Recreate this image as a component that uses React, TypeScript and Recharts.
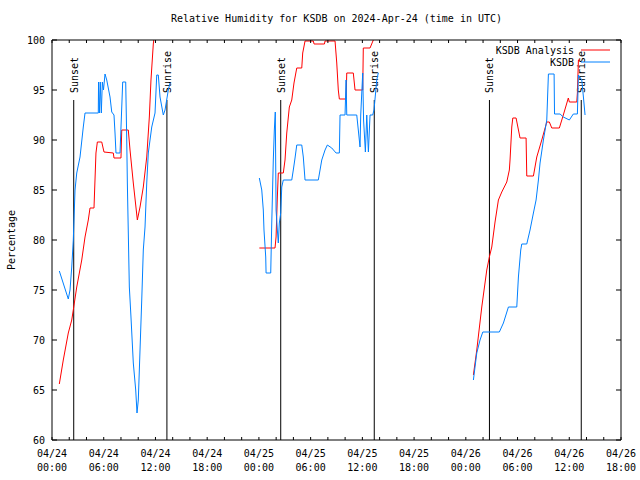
import { LineChart, Line, XAxis, YAxis, ReferenceLine } from "recharts"

// hours counted from 04/24 00:00 UTC
const xTicks = [0, 2, 4, 6, 8, 10, 12, 14, 16, 18, 20, 22, 24, 26, 28, 30, 32, 34, 36, 38, 40, 42, 44, 46, 48, 50, 52, 54, 56, 58, 60, 62, 64, 66]
const dayLabels = ["04/24", "04/25", "04/26"]
const yTicks = [60, 65, 70, 75, 80, 85, 90, 95, 100]

const sunsetHours = [2.52, 26.53, 50.74]
const sunriseHours = [13.33, 37.38, 61.39]
const sunMarkerTop = 94

const analysisApr24: [number, number][] = [
  [0.85, 65.6], [1.31, 68.0], [1.89, 70.7], [2.29, 72.0], [2.47, 73.0], [2.87, 75.3], [3.45, 78.0],
  [3.83, 80.3], [4.21, 82.0], [4.41, 83.2], [4.87, 83.2], [5.1, 88.7], [5.26, 89.8], [5.77, 89.8],
  [6.03, 88.8], [7.11, 88.7], [7.19, 88.2], [8.0, 88.2], [8.09, 91.0], [8.85, 91.0], [9.05, 89.0],
  [9.43, 85.7], [9.9, 82.0], [10.21, 83.3], [10.59, 85.3], [10.99, 88.3], [11.29, 92.3], [11.48, 96.0],
  [11.75, 99.6], [12.0, 101.5],
]
const analysisApr25: [number, number][] = [
  [24.05, 79.2], [25.87, 79.2], [25.99, 80.3], [26.14, 84.3], [26.25, 86.7], [26.83, 86.7], [27.03, 88.0],
  [27.23, 90.7], [27.53, 93.3], [27.81, 94.0], [28.07, 95.7], [28.39, 97.2], [28.97, 97.2], [29.08, 98.7],
  [29.35, 99.9], [30.31, 99.9], [30.4, 99.6], [31.6, 99.6], [31.67, 99.9], [32.83, 99.9], [33.03, 97.7],
  [33.21, 95.0], [33.33, 94.1], [34.11, 94.1], [34.19, 96.7], [34.95, 96.7], [35.15, 95.0], [36.04, 95.0],
  [36.11, 99.2], [36.89, 99.2], [37.27, 100.0], [37.59, 101.0],
]
const analysisApr26: [number, number][] = [
  [48.88, 66.5], [49.27, 69.0], [49.85, 73.3], [50.43, 77.0], [50.73, 78.3], [51.01, 79.3], [51.39, 81.8],
  [51.78, 84.0], [52.17, 84.8], [52.75, 85.8], [53.05, 87.0], [53.13, 88.0], [53.33, 91.3], [53.45, 92.2],
  [53.83, 92.2], [54.29, 90.2], [54.99, 90.2], [55.07, 86.4], [55.84, 86.4], [56.23, 88.3], [56.81, 90.0],
  [57.39, 91.8], [57.69, 91.8], [57.97, 91.2], [58.85, 91.2], [59.31, 92.5], [59.89, 94.2], [60.01, 93.8],
  [60.87, 93.8], [60.94, 94.7], [61.06, 98.0], [61.25, 98.0],
]

const observedApr24: [number, number][] = [
  [0.85, 76.9], [1.89, 74.1], [2.09, 75.0], [2.29, 77.3], [2.47, 80.0], [2.67, 85.0], [2.87, 86.7],
  [3.25, 88.3], [3.63, 91.3], [3.83, 92.7], [5.37, 92.7], [5.4, 95.8], [5.5, 92.7], [5.6, 95.8],
  [5.72, 92.7], [5.84, 95.8], [5.97, 95.0], [6.15, 96.6], [6.35, 96.0], [6.73, 94.3], [6.93, 92.8],
  [7.19, 92.5], [7.31, 90.7], [7.42, 88.7], [7.89, 88.7], [8.2, 95.8], [8.55, 95.8], [8.67, 90.0],
  [8.74, 85.7], [8.85, 80.7], [8.97, 75.3], [9.16, 72.3], [9.43, 67.7], [9.71, 65.0], [9.86, 62.7],
  [10.01, 64.0], [10.21, 69.0], [10.41, 74.0], [10.59, 79.0], [10.79, 81.3], [10.99, 85.7], [11.17, 88.7],
  [11.57, 91.3], [11.95, 92.7], [12.15, 96.5], [12.33, 96.5], [12.53, 94.3], [12.91, 92.5], [13.11, 93.0],
  [13.49, 95.0], [13.69, 95.7],
]
const observedApr25: [number, number][] = [
  [24.05, 86.2], [24.33, 85.0], [24.51, 83.0], [24.59, 81.0], [24.79, 78.3], [24.83, 76.7], [25.37, 76.7],
  [25.49, 81.7], [25.67, 88.0], [25.79, 91.0], [25.9, 92.8], [25.99, 83.0], [26.14, 81.0], [26.25, 79.7],
  [26.37, 81.7], [26.53, 82.7], [26.65, 85.3], [26.83, 86.0], [27.81, 86.0], [27.99, 87.0], [28.19, 88.2],
  [28.39, 89.5], [28.97, 89.5], [29.15, 88.3], [29.35, 86.0], [30.89, 86.0], [31.09, 87.0], [31.29, 88.0],
  [31.67, 89.0], [31.94, 89.5], [32.45, 89.2], [32.95, 88.7], [33.33, 88.7], [33.41, 92.5], [33.99, 92.5],
  [34.11, 96.0], [34.19, 92.5], [35.35, 92.5], [35.53, 91.0], [35.73, 89.3], [35.81, 92.5], [36.04, 96.7],
  [36.14, 92.0], [36.35, 88.8], [36.51, 92.5], [36.7, 88.8], [36.89, 92.5], [37.2, 92.5], [37.35, 93.0],
  [37.67, 96.0], [37.85, 96.7],
]
const observedApr26: [number, number][] = [
  [48.88, 66.0], [49.27, 68.7], [49.65, 70.0], [49.97, 70.8], [51.89, 70.8], [52.36, 71.7], [52.94, 73.3],
  [53.91, 73.3], [54.1, 76.3], [54.37, 79.0], [54.49, 79.6], [55.07, 79.6], [55.45, 81.0], [55.84, 82.7],
  [56.15, 84.0], [56.42, 86.0], [56.61, 87.7], [57.0, 90.0], [57.39, 92.0], [57.58, 96.6], [58.24, 96.6],
  [58.29, 92.6], [58.93, 92.6], [59.31, 92.3], [60.01, 92.0], [60.47, 92.6], [60.94, 92.6], [61.06, 96.5],
  [61.45, 96.0], [61.64, 94.3], [61.83, 92.5],
]

const FONT = "'DejaVu Sans Mono', monospace"
const RED = "#ff0000"
const BLUE = "#0080ff"

// join the daily pieces with a null point so the line breaks between them
function joinSegments(...segments: [number, number][][]) {
  const out: { h: number; v: number | null }[] = []
  segments.forEach((seg, i) => {
    if (i > 0) out.push({ h: segments[i - 1][segments[i - 1].length - 1][0] + 0.01, v: null })
    seg.forEach(([h, v]) => out.push({ h, v }))
  })
  return out
}

const analysisData = joinSegments(analysisApr24, analysisApr25, analysisApr26)
const observedData = joinSegments(observedApr24, observedApr25, observedApr26)

const textStyle = { fontFamily: FONT, fontSize: 10, fill: "#000" }

function BottomTick({ x, y, payload }: any) {
  const h = payload.value as number
  const showLabel = h % 6 === 0
  const hour = String(h % 24).padStart(2, "0") + ":00"
  return (
    <g>
      <line x1={x} x2={x} y1={y} y2={y - 3} stroke="#000" />
      {showLabel && (
        <text x={x} y={y + 17} textAnchor="middle" {...textStyle}>
          {dayLabels[Math.floor(h / 24)]}
        </text>
      )}
      {showLabel && (
        <text x={x} y={y + 31} textAnchor="middle" {...textStyle}>
          {hour}
        </text>
      )}
    </g>
  )
}

function TopTick({ x, y }: any) {
  return <line x1={x} x2={x} y1={y} y2={y + 3} stroke="#000" />
}

function LeftTick({ x, y, payload }: any) {
  return (
    <g>
      <line x1={x} x2={x + 5} y1={y} y2={y} stroke="#000" />
      <text x={x - 7} y={y} textAnchor="end" dominantBaseline="central" {...textStyle}>
        {payload.value}
      </text>
    </g>
  )
}

function RightTick({ x, y }: any) {
  return <line x1={x - 5} x2={x} y1={y} y2={y} stroke="#000" />
}

function YTitle({ viewBox }: any) {
  const x = viewBox.x + 11
  const y = viewBox.y + viewBox.height / 2
  return (
    <text x={x} y={y} transform={`rotate(-90 ${x} ${y})`} textAnchor="middle" dominantBaseline="central" {...textStyle}>
      Percentage
    </text>
  )
}

function SunLabel({ viewBox, text }: any) {
  const x = (viewBox.x ?? viewBox.x1) + 4
  const y = (viewBox.y ?? Math.min(viewBox.y1, viewBox.y2)) - 7
  return (
    <text x={x} y={y} transform={`rotate(-90 ${x} ${y})`} textAnchor="start" {...textStyle}>
      {text}
    </text>
  )
}

export default function App() {
  return (
    <div style={{ position: "absolute", left: 0, top: 0, width: 640, height: 480, background: "#fff" }}>
      <div
        style={{
          position: "absolute", left: 52, top: 13, width: 569, textAlign: "center",
          fontFamily: FONT, fontSize: 10, lineHeight: "12px", color: "#000",
        }}
      >
        Relative Humidity for KSDB on 2024-Apr-24 (time in UTC)
      </div>
      <LineChart width={640} height={480} margin={{ top: 39, right: 18, bottom: 0, left: 0 }}>
        <XAxis
          xAxisId="b" dataKey="h" type="number" domain={[0, 66]} ticks={xTicks} interval={0}
          allowDataOverflow height={40} tickSize={0} tickMargin={0} tickLine={false}
          axisLine={{ stroke: "#000" }} tick={<BottomTick />}
        />
        <XAxis
          xAxisId="t" orientation="top" dataKey="h" type="number" domain={[0, 66]} ticks={xTicks} interval={0}
          allowDataOverflow height={1} tickSize={0} tickMargin={0} tickLine={false}
          axisLine={{ stroke: "#000" }} tick={<TopTick />}
        />
        <YAxis
          yAxisId="l" type="number" domain={[60, 100]} ticks={yTicks} interval={0} allowDataOverflow
          width={52} tickSize={0} tickMargin={0} tickLine={false} axisLine={{ stroke: "#000" }}
          tick={<LeftTick />} label={<YTitle />}
        />
        <YAxis
          yAxisId="r" orientation="right" type="number" domain={[60, 100]} ticks={yTicks} interval={0}
          allowDataOverflow width={1} tickSize={0} tickMargin={0} tickLine={false}
          axisLine={{ stroke: "#000" }} tick={<RightTick />}
        />
        {sunsetHours.map((h) => (
          <ReferenceLine
            key={`set-${h}`} xAxisId="b" yAxisId="l" stroke="#000" ifOverflow="visible"
            segment={[{ x: h, y: 60 }, { x: h, y: sunMarkerTop }]}
            label={<SunLabel text="Sunset" />}
          />
        ))}
        {sunriseHours.map((h) => (
          <ReferenceLine
            key={`rise-${h}`} xAxisId="b" yAxisId="l" stroke="#000" ifOverflow="visible"
            segment={[{ x: h, y: 60 }, { x: h, y: sunMarkerTop }]}
            label={<SunLabel text="Sunrise" />}
          />
        ))}
        <Line
          xAxisId="b" yAxisId="l" data={analysisData} dataKey="v" type="linear" stroke={RED}
          strokeWidth={1} dot={false} activeDot={false} connectNulls={false} isAnimationActive={false}
        />
        <Line
          xAxisId="b" yAxisId="l" data={observedData} dataKey="v" type="linear" stroke={BLUE}
          strokeWidth={1} dot={false} activeDot={false} connectNulls={false} isAnimationActive={false}
        />
      </LineChart>
      <svg style={{ position: "absolute", left: 0, top: 0, pointerEvents: "none" }} width={640} height={80}>
        <text x={574} y={50} textAnchor="end" dominantBaseline="central" {...textStyle}>KSDB Analysis</text>
        <line x1={581} x2={610} y1={50} y2={50} stroke={RED} />
        <text x={574} y={62} textAnchor="end" dominantBaseline="central" {...textStyle}>KSDB</text>
        <line x1={581} x2={610} y1={62} y2={62} stroke={BLUE} />
      </svg>
    </div>
  )
}
